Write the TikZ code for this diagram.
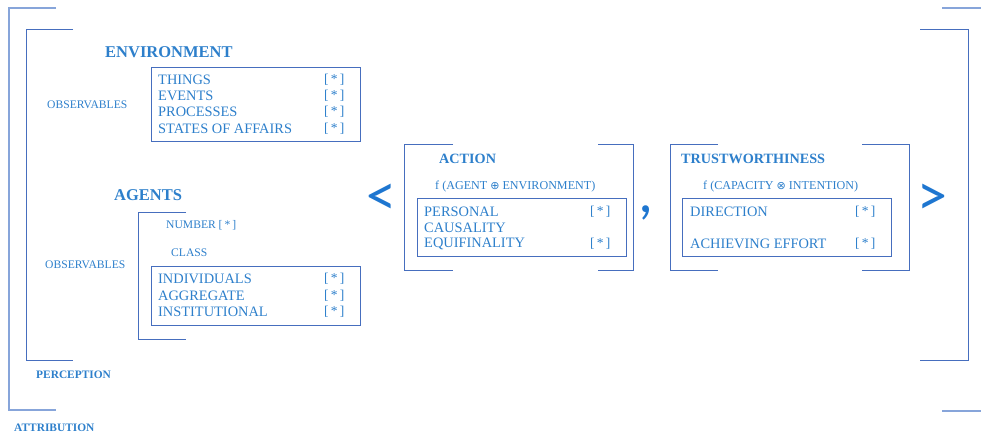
\documentclass[tikz,border=0pt]{standalone}
\usepackage{fontspec}
\setmainfont{Liberation Serif}
\newfontfamily\symfont{Carlito}
\newfontfamily\opfont{DejaVu Sans}
\definecolor{txtblue}{RGB}{45,127,203}
\definecolor{symblue}{RGB}{30,118,208}
\definecolor{lnblue}{RGB}{70,110,190}
\definecolor{lnlight}{RGB}{135,165,218}
\begin{document}
\begin{tikzpicture}[x=1pt,y=-1pt,
  lbl/.style={inner sep=0pt, anchor=west, text=txtblue, font=\fontsize{14.4}{14.4}\selectfont},
  head/.style={inner sep=0pt, anchor=west, text=txtblue, font=\fontsize{16.5}{16.5}\selectfont\bfseries},
  sub/.style={inner sep=0pt, anchor=west, text=txtblue, font=\fontsize{14.2}{14.2}\selectfont\bfseries},
  small/.style={inner sep=0pt, anchor=west, text=txtblue, font=\fontsize{11.6}{11.6}\selectfont},
  fsty/.style={inner sep=0pt, anchor=west, text=txtblue, font=\fontsize{12.1}{12.1}\selectfont},
  smallb/.style={inner sep=0pt, anchor=west, text=txtblue, font=\fontsize{11.4}{11.4}\selectfont\bfseries},
  star/.style={inner sep=0pt, anchor=west, text=txtblue, font=\fontsize{13.5}{13.5}\selectfont},
  sym/.style={inner sep=0pt, text=symblue, font=\fontsize{60}{60}\selectfont\symfont},
  ln/.style={draw=lnblue, line width=1pt},
  lnl/.style={draw=lnlight, line width=1.3pt}
]
\useasboundingbox (0,0) rectangle (981,435);
% outer attribution bracket (left)
\draw[lnl] (56,8) -- (9,8) -- (9,410) -- (56,410);
% outer attribution bracket (right, vertical off page)
\draw[lnl] (942,8) -- (981,8);
\draw[lnl] (942,411) -- (981,411);
% perception brackets
\draw[ln] (73,30) -- (26,30) -- (26,360) -- (73,360);
\draw[ln] (920,30) -- (968,30) -- (968,360) -- (920,360);

% Environment
\node[head] (env) at (105,52) {ENVIRONMENT};
\node[small] (obs1) at (47,105) {OBSERVABLES};
\draw[ln] (151,68) rectangle (360,142);
\node[lbl] (e1) at (158,80) {THINGS};
\node[lbl] (e2) at (158,96) {EVENTS};
\node[lbl] (e3) at (158,112) {PROCESSES};
\node[lbl] (e4) at (158,129) {STATES OF AFFAIRS};
\node[star] (s1) at (324,80) {[\,*\,]};
\node[star] (s2) at (324,96) {[\,*\,]};
\node[star] (s3) at (324,112) {[\,*\,]};
\node[star] (s4) at (324,129) {[\,*\,]};

% Agents
\node[head] (ag) at (114,195) {AGENTS};
\node[small] (obs2) at (45,265) {OBSERVABLES};
\draw[ln] (186,213) -- (138,213) -- (138,339) -- (186,339);
\node[small] (num) at (166,225) {NUMBER [\,*\,]};
\node[small] (cls) at (171,253) {CLASS};
\draw[ln] (151,267) rectangle (360,325);
\node[lbl] (a1) at (158,279) {INDIVIDUALS};
\node[lbl] (a2) at (158,296) {AGGREGATE};
\node[lbl] (a3) at (158,312) {INSTITUTIONAL};
\node[star] (t1) at (324,279) {[\,*\,]};
\node[star] (t2) at (324,296) {[\,*\,]};
\node[star] (t3) at (324,312) {[\,*\,]};

\node[smallb] (perc) at (36,375) {PERCEPTION};
\node[smallb] (attr) at (14,428) {ATTRIBUTION};

% angle brackets and comma
\node[sym] (lt) at (381.5,199.5) {<};
\node[sym] (cm) at (645.5,212.5) {,};
\node[sym] (gt) at (932,200) {>};

% Action
\draw[ln] (453,145) -- (404,145) -- (404,271) -- (453,271);
\draw[ln] (598,145) -- (633,145) -- (633,271) -- (598,271);
\node[sub] (act) at (439,159) {ACTION};
\node[fsty] (fact) at (435,187) {f (AGENT {\opfont\fontsize{11}{11}\selectfont ⊕} ENVIRONMENT)};
\draw[ln] (417,199) rectangle (626,257);
\node[lbl] (p1) at (424,212) {PERSONAL};
\node[lbl] (p2) at (424,228) {CAUSALITY};
\node[lbl] (p3) at (424,244) {EQUIFINALITY};
\node[star] (u1) at (590,212) {[\,*\,]};
\node[star] (u3) at (590,244) {[\,*\,]};

% Trustworthiness
\draw[ln] (718,145) -- (670,145) -- (670,271) -- (718,271);
\draw[ln] (862,145) -- (909,145) -- (909,271) -- (862,271);
\node[sub] (tw) at (681,159) {TRUSTWORTHINESS};
\node[fsty] (ftw) at (703,187) {f (CAPACITY {\opfont\fontsize{11}{11}\selectfont ⊗} INTENTION)};
\draw[ln] (682,199) rectangle (891,257);
\node[lbl] (d1) at (690,212) {DIRECTION};
\node[lbl] (d2) at (690,244) {ACHIEVING EFFORT};
\node[star] (v1) at (855,212) {[\,*\,]};
\node[star] (v2) at (855,244) {[\,*\,]};
\end{tikzpicture}
\end{document}
